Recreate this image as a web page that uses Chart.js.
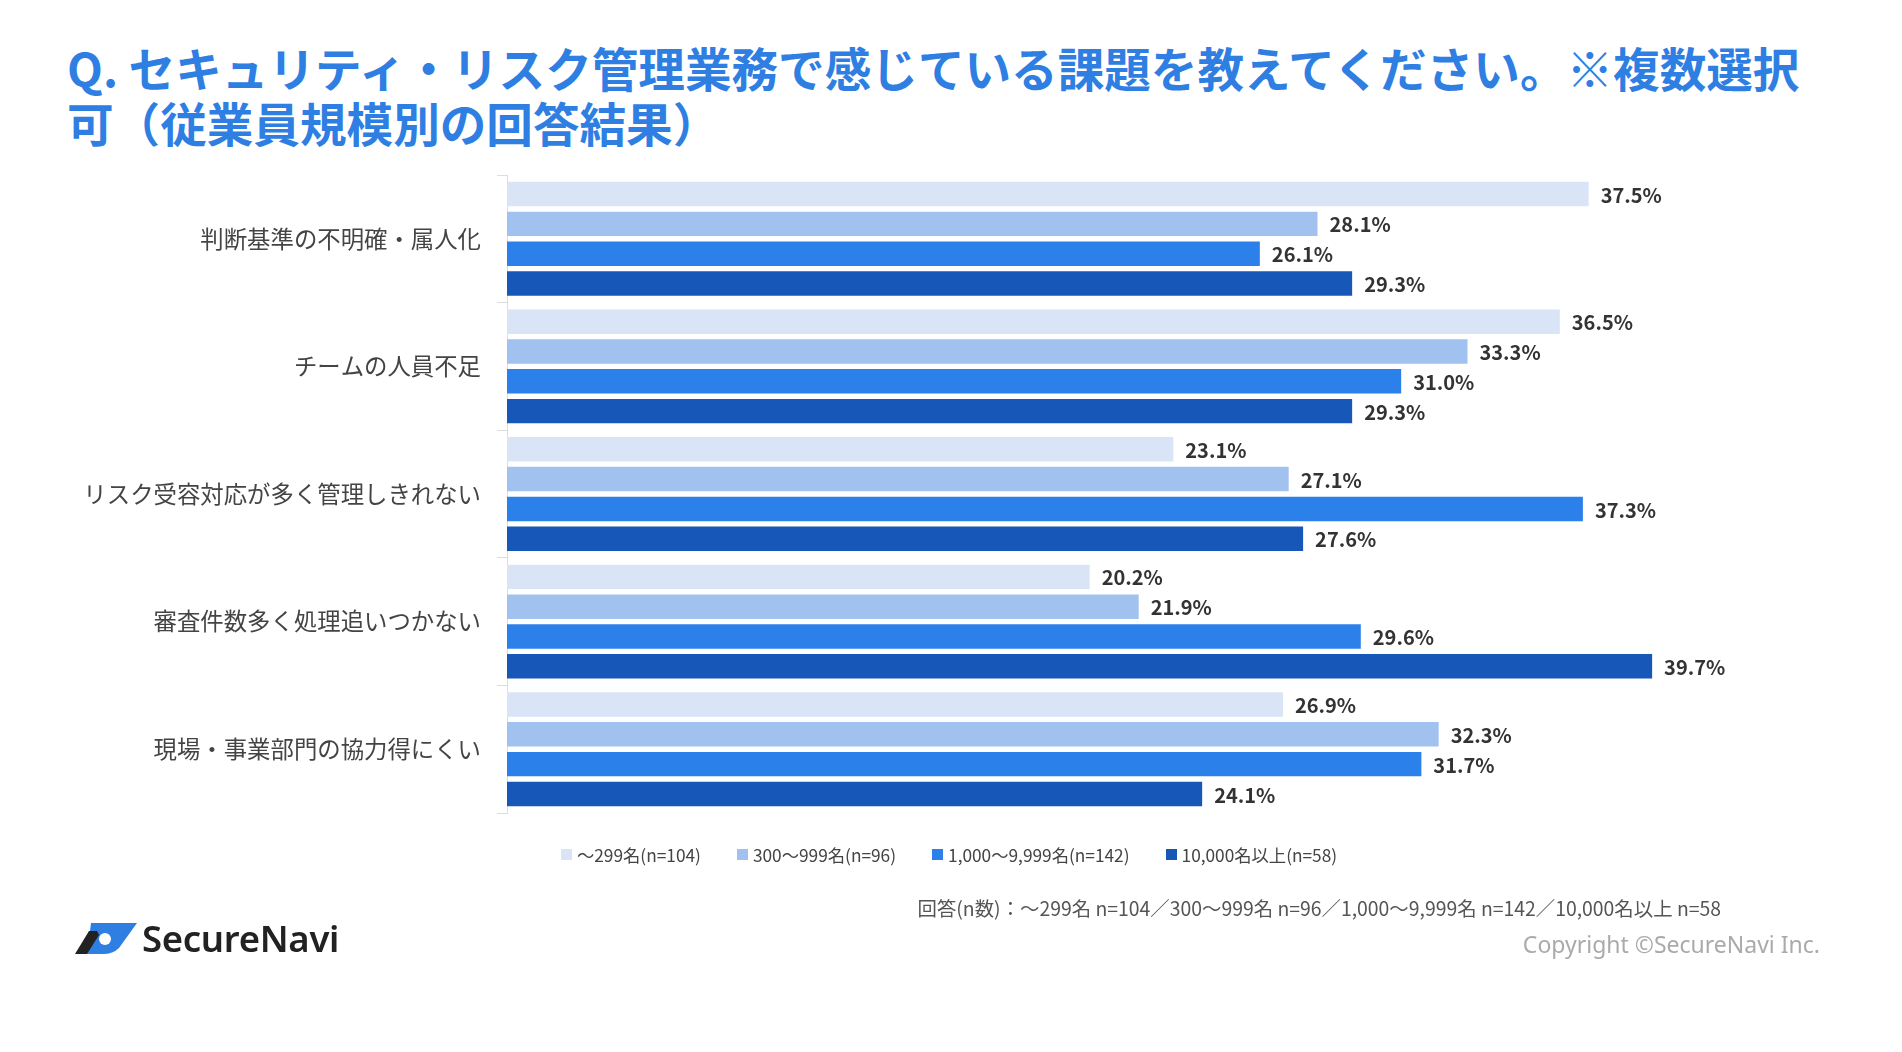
<!DOCTYPE html>
<html lang="ja">
<head>
<meta charset="utf-8">
<script src="https://cdn.jsdelivr.net/npm/chart.js@4.4.1/dist/chart.umd.min.js"></script>
<style>
  html, body { margin:0; padding:0; background:#fff; }
  body { width:1902px; height:1052px; position:relative; overflow:hidden; font-family:"Noto Sans CJK JP","Noto Sans",sans-serif; }
  #title { position:absolute; left:67px; top:39px; margin:0; font-size:46.6px; line-height:55px; font-weight:700; color:#2f7fe3; white-space:nowrap; }
  #chartWrap { position:absolute; left:0; top:0; width:1902px; height:1052px; }
  #legend { position:absolute; left:561px; top:842px; display:flex; gap:36px; font-size:17.3px; color:#444; }
  #legend .item { display:flex; align-items:center; }
  #legend .box { width:11px; height:11px; margin-right:5px; }
  #note { position:absolute; right:181px; top:893px; font-size:19.4px; color:#555; white-space:nowrap; }
  #copy { position:absolute; right:82px; top:928px; font-size:23px; color:#aaa; font-family:"Noto Sans","Open Sans",sans-serif; white-space:nowrap; }
  #logo { position:absolute; left:75px; top:913px; display:flex; align-items:center; }
  #logo span { font-family:"Noto Sans","Open Sans",sans-serif; font-weight:600; font-size:36.5px; color:#222; margin-left:5px; letter-spacing:-0.3px; }
</style>
</head>
<body>
<div id="title">Q. セキュリティ・リスク管理業務で感じている課題を教えてください。※複数選択<br>可（従業員規模別の回答結果）</div>
<div id="chartWrap"><canvas id="c" width="1902" height="1052"></canvas></div>
<div id="legend"></div>
<div id="note">回答(n数)：～299名 n=104／300～999名 n=96／1,000～9,999名 n=142／10,000名以上 n=58</div>
<div id="copy">Copyright ©SecureNavi Inc.</div>
<div id="logo">
  <svg width="62" height="36" viewBox="0 0 62 36">
    <path d="M16,3 L62,3 L44,28 Q38,34 28,34 L12,34 Z" fill="#2f7fe3"/>
    <circle cx="30" cy="19" r="6" fill="#fff"/>
    <polygon points="0,34 14,11 22,11 24,15 12,34" fill="#222"/>
  </svg>
  <span>SecureNavi</span>
</div>
<script>
const categories = [
  "判断基準の不明確・属人化",
  "チームの人員不足",
  "リスク受容対応が多く管理しきれない",
  "審査件数多く処理追いつかない",
  "現場・事業部門の協力得にくい"
];
const seriesNames = ["～299名(n=104)", "300～999名(n=96)", "1,000～9,999名(n=142)", "10,000名以上(n=58)"];
const seriesColors = ["#d9e5f6", "#a1c1ee", "#2c80ea", "#1657b8"];
const under299 = [37.5, 36.5, 23.1, 20.2, 26.9];
const from300to999 = [28.1, 33.3, 27.1, 21.9, 32.3];
const from1000to9999 = [26.1, 31.0, 37.3, 29.6, 31.7];
const over10000 = [29.3, 29.3, 27.6, 39.7, 24.1];
const seriesValues = [under299, from300to999, from1000to9999, over10000];

const legendEl = document.getElementById('legend');
seriesNames.forEach((n, i) => {
  const it = document.createElement('div'); it.className = 'item';
  const b = document.createElement('div'); b.className = 'box'; b.style.background = seriesColors[i];
  const t = document.createElement('span'); t.textContent = n;
  it.appendChild(b); it.appendChild(t); legendEl.appendChild(it);
});

const valueLabels = {
  id: 'valueLabels',
  afterDatasetsDraw(chart) {
    const ctx = chart.ctx;
    ctx.save();
    ctx.font = '700 20px "Noto Sans CJK JP","Noto Sans",sans-serif';
    ctx.fillStyle = '#333';
    ctx.textAlign = 'left';
    ctx.textBaseline = 'middle';
    chart.data.datasets.forEach((ds, di) => {
      chart.getDatasetMeta(di).data.forEach((bar, i) => {
        ctx.fillText(ds.data[i].toFixed(1) + '%', bar.x + 12, bar.y + 1);
      });
    });
    ctx.restore();
  }
};

new Chart(document.getElementById('c'), {
  type: 'bar',
  data: {
    labels: categories,
    datasets: seriesValues.map((v, i) => ({
      label: seriesNames[i],
      data: v,
      backgroundColor: seriesColors[i],
      borderWidth: 0,
      categoryPercentage: 0.935,
      barPercentage: 0.82
    }))
  },
  options: {
    indexAxis: 'y',
    responsive: false,
    animation: false,
    devicePixelRatio: 1,
    layout: { padding: { top: 175, bottom: 239, right: 97, left: 0 } },
    plugins: { legend: { display: false }, tooltip: { enabled: false } },
    scales: {
      x: { display: false, min: 0, max: 45 },
      y: {
        afterFit(scale) { scale.width = 507; },
        grid: { drawOnChartArea: false, drawTicks: true, tickLength: 10, color: '#dddddd', offset: true },
        border: { display: true, color: '#dddddd' },
        ticks: {
          padding: 16,
          color: '#444',
          font: { family: '"Noto Sans CJK JP","Noto Sans",sans-serif', size: 23.4 }
        }
      }
    }
  },
  plugins: [valueLabels]
});
</script>
</body>
</html>
